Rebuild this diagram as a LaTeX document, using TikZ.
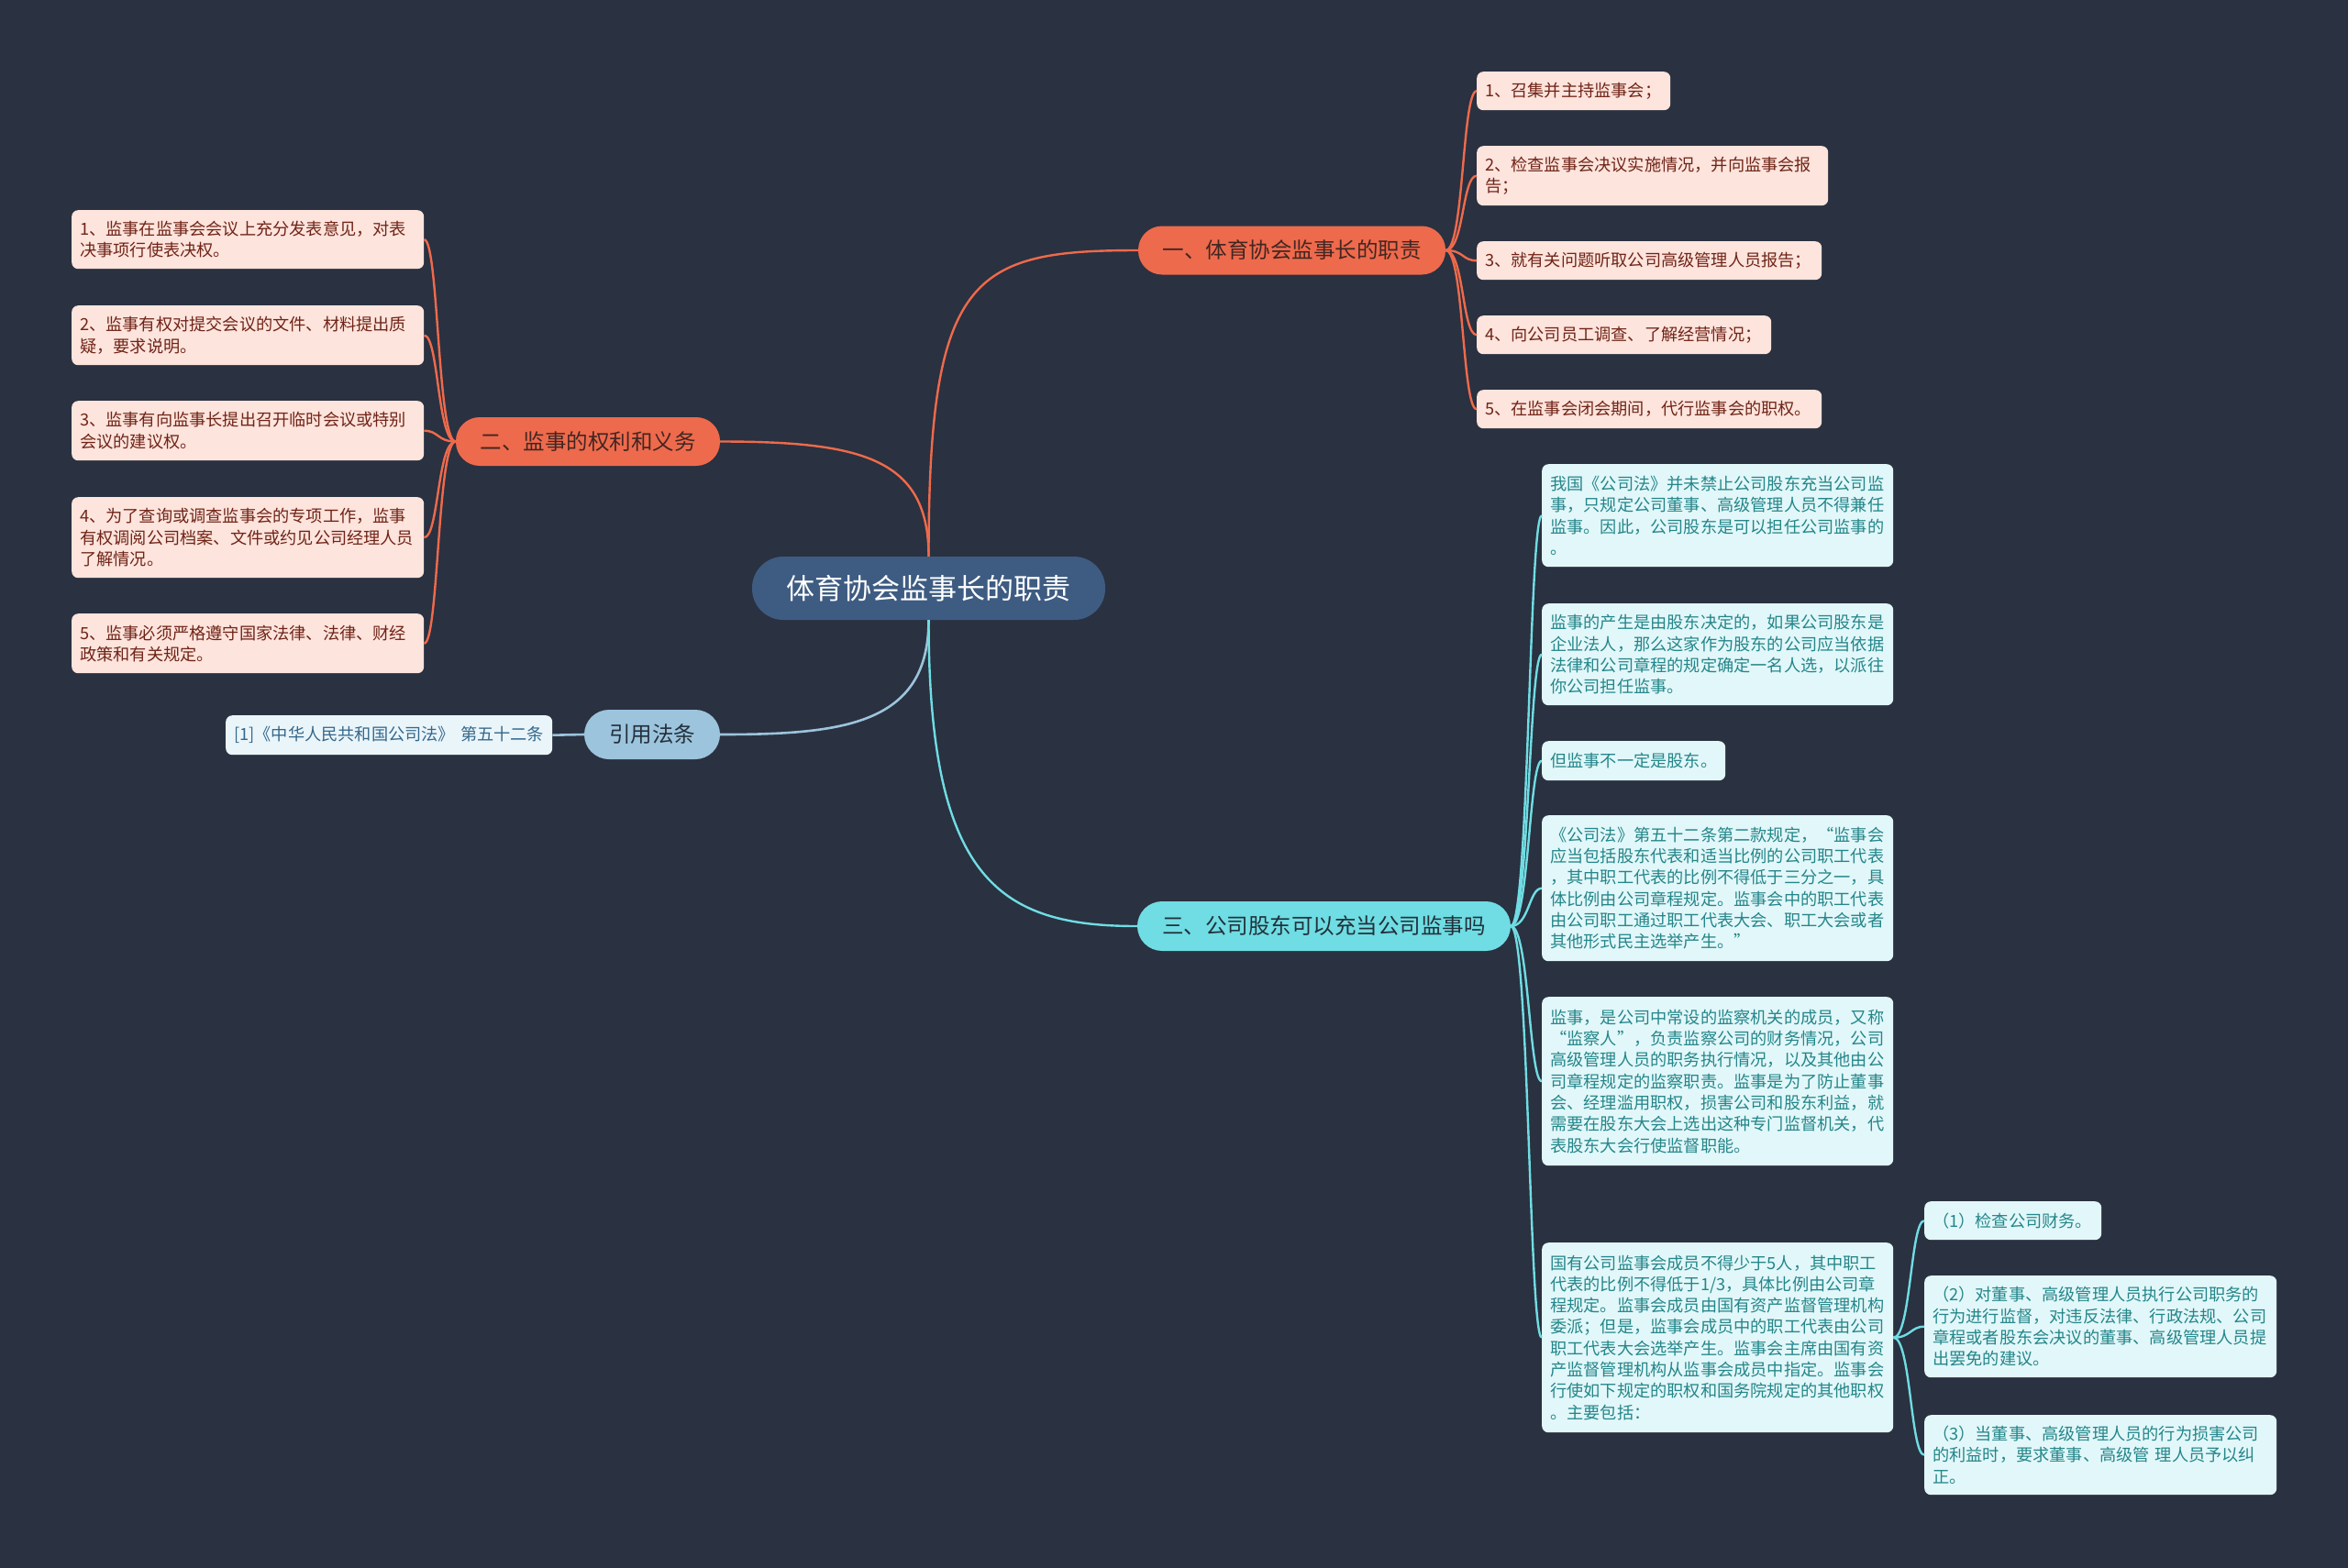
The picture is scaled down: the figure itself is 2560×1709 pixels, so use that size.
\documentclass[tikz,border=0pt]{standalone}
\usepackage{fontspec}
\setmainfont{Noto Sans CJK SC}
\definecolor{bg}{RGB}{42,49,64}
\definecolor{centralfill}{RGB}{62,92,130}
\definecolor{orangec}{RGB}{238,106,76}
\definecolor{orangetext}{RGB}{66,38,34}
\definecolor{pinkfill}{RGB}{253,228,220}
\definecolor{pinktext}{RGB}{112,36,24}
\definecolor{bluec}{RGB}{156,196,220}
\definecolor{bluetext}{RGB}{36,48,60}
\definecolor{citefill}{RGB}{234,245,250}
\definecolor{citetext}{RGB}{52,104,140}
\definecolor{cyanc}{RGB}{111,221,227}
\definecolor{cyantext}{RGB}{34,48,58}
\definecolor{cyanfill}{RGB}{226,247,249}
\definecolor{cyanleaftext}{RGB}{36,134,138}
\tikzset{
  central/.style={fill=centralfill, text=white, rounded corners=34, inner sep=0pt,
    minimum width=385, minimum height=69, font=\fontsize{31}{36}\selectfont},
  branchbox/.style={rounded corners=26, inner sep=0pt, minimum height=53,
    font=\fontsize{23.5}{28}\selectfont},
  leafbox/.style={rounded corners=7, inner xsep=9pt, inner ysep=3pt, anchor=north west,
    align=left, font=\fontsize{18.2}{23.3}\selectfont},
  pinkleaf/.style={leafbox, fill=pinkfill, text=pinktext},
  cyanleaf/.style={leafbox, fill=cyanfill, text=cyanleaftext},
  citeleaf/.style={leafbox, fill=citefill, text=citetext},
  orangeline/.style={draw=orangec, line width=2.4pt},
  cyanline/.style={draw=cyanc, line width=2.4pt},
  blueline/.style={draw=bluec, line width=2.6pt},
}
\begin{document}
\begin{tikzpicture}[x=1pt,y=-1pt]
\useasboundingbox (0,0) rectangle (2560,1709);
\fill[bg] (-6,-6) rectangle (2566,1715);

% central
\node[central] (c) at (1012.5,641.5) {体育协会监事长的职责};

% branches
\node[branchbox, fill=orangec, text=orangetext, minimum width=335] (b1) at (1408.5,273) {一、体育协会监事长的职责};
\node[branchbox, fill=orangec, text=orangetext, minimum width=288] (b2) at (641,481.5) {二、监事的权利和义务};
\node[branchbox, fill=bluec, text=bluetext, minimum width=148, minimum height=54, rounded corners=27] (b3) at (711,801) {引用法条};
\node[branchbox, fill=cyanc, text=cyantext, minimum width=407, minimum height=54, rounded corners=27] (b4) at (1443.5,1010) {三、公司股东可以充当公司监事吗};

% branch 1 leaves
\node[pinkleaf, text width=193, minimum height=42] (l1) at (1610,78) {1、召集并主持监事会；};
\node[pinkleaf, text width=365, minimum height=65] (l2) at (1610,159) {2、检查监事会决议实施情况，并向监事会报\\告；};
\node[pinkleaf, text width=358, minimum height=42] (l3) at (1610,263) {3、就有关问题听取公司高级管理人员报告；};
\node[pinkleaf, text width=303, minimum height=42] (l4) at (1610,344) {4、向公司员工调查、了解经营情况；};
\node[pinkleaf, text width=358, minimum height=42] (l5) at (1610,425) {5、在监事会闭会期间，代行监事会的职权。};

% branch 2 leaves
\node[pinkleaf, text width=366, minimum height=64] (m1) at (78,229) {1、监事在监事会会议上充分发表意见，对表\\决事项行使表决权。};
\node[pinkleaf, text width=366, minimum height=65] (m2) at (78,333) {2、监事有权对提交会议的文件、材料提出质\\疑，要求说明。};
\node[pinkleaf, text width=366, minimum height=65] (m3) at (78,437) {3、监事有向监事长提出召开临时会议或特别\\会议的建议权。};
\node[pinkleaf, text width=366, minimum height=88] (m4) at (78,542) {4、为了查询或调查监事会的专项工作，监事\\有权调阅公司档案、文件或约见公司经理人员\\了解情况。};
\node[pinkleaf, text width=366, minimum height=65] (m5) at (78,669) {5、监事必须严格遵守国家法律、法律、财经\\政策和有关规定。};

% citation leaf
\node[citeleaf, text width=338, minimum height=43] (q1) at (246,780) {[1]《中华人民共和国公司法》 第五十二条};

% branch 4 leaves
\node[cyanleaf, text width=365, minimum height=112] (r1) at (1681,506) {我国《公司法》并未禁止公司股东充当公司监\\事，只规定公司董事、高级管理人员不得兼任\\监事。因此，公司股东是可以担任公司监事的\\。};
\node[cyanleaf, text width=365, minimum height=111] (r2) at (1681,658) {监事的产生是由股东决定的，如果公司股东是\\企业法人，那么这家作为股东的公司应当依据\\法律和公司章程的规定确定一名人选，以派往\\你公司担任监事。};
\node[cyanleaf, text width=182, minimum height=43] (r3) at (1681,808) {但监事不一定是股东。};
\node[cyanleaf, text width=365, minimum height=159] (r4) at (1681,889) {《公司法》第五十二条第二款规定，“监事会\\应当包括股东代表和适当比例的公司职工代表\\，其中职工代表的比例不得低于三分之一，具\\体比例由公司章程规定。监事会中的职工代表\\由公司职工通过职工代表大会、职工大会或者\\其他形式民主选举产生。”};
\node[cyanleaf, text width=365, minimum height=184] (r5) at (1681,1087) {监事，是公司中常设的监察机关的成员，又称\\“监察人”，负责监察公司的财务情况，公司\\高级管理人员的职务执行情况，以及其他由公\\司章程规定的监察职责。监事是为了防止董事\\会、经理滥用职权，损害公司和股东利益，就\\需要在股东大会上选出这种专门监督机关，代\\表股东大会行使监督职能。};
\node[cyanleaf, text width=365, minimum height=207] (r6) at (1681,1355) {国有公司监事会成员不得少于5人，其中职工\\代表的比例不得低于1/3，具体比例由公司章\\程规定。监事会成员由国有资产监督管理机构\\委派；但是，监事会成员中的职工代表由公司\\职工代表大会选举产生。监事会主席由国有资\\产监督管理机构从监事会成员中指定。监事会\\行使如下规定的职权和国务院规定的其他职权\\。主要包括：};

% sub leaves
\node[cyanleaf, text width=175, minimum height=42] (s1) at (2098,1310) {（1）检查公司财务。};
\node[cyanleaf, text width=366, minimum height=111] (s2) at (2098,1391) {（2）对董事、高级管理人员执行公司职务的\\行为进行监督，对违反法律、行政法规、公司\\章程或者股东会决议的董事、高级管理人员提\\出罢免的建议。};
\node[cyanleaf, text width=366, minimum height=87] (s3) at (2098,1543) {（3）当董事、高级管理人员的行为损害公司\\的利益时，要求董事、高级管 理人员予以纠\\正。};

% main connectors
\draw[orangeline] (c.north) .. controls +(0,-307) and +(-181,0) .. (b1.west);
\draw[orangeline] (c.north) .. controls +(0,-107) and +(155,0) .. (b2.east);
\draw[blueline] (c.south) .. controls +(0,114) and +(135,0) .. (b3.east);
\draw[cyanline] (c.south) .. controls +(0,284) and +(-150,0) .. (b4.west);

% branch 1 leaf connectors
\foreach \n in {l1,l2,l3,l4,l5}
  \draw[orangeline] (b1.east) .. controls +(20,0) and +(-16,0) .. (\n.west);
% branch 2 leaf connectors
\foreach \n in {m1,m2,m3,m4,m5}
  \draw[orangeline] (b2.west) .. controls +(-20,0) and +(16,0) .. (\n.east);
% citation connector
\draw[blueline] (b3.west) -- (q1.east);
% branch 4 leaf connectors
\foreach \n in {r1,r2,r3,r4,r5,r6}
  \draw[cyanline] (b4.east) .. controls +(20,0) and +(-14,0) .. (\n.west);
% sub leaf connectors
\foreach \n in {s1,s2,s3}
  \draw[cyanline] (r6.east) .. controls +(19,0) and +(-15,0) .. (\n.west);
\end{tikzpicture}
\end{document}
